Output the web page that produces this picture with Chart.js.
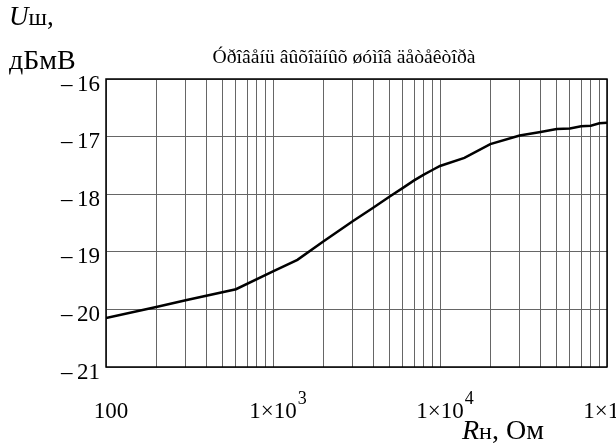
<!DOCTYPE html>
<html>
<head>
<meta charset="utf-8">
<script src="https://cdn.jsdelivr.net/npm/chart.js@4.4.1/dist/chart.umd.min.js"></script>
<style>
  html, body { margin: 0; padding: 0; background: #fff; }
  canvas { display: block; }
</style>
</head>
<body>
<canvas id="noiseChart" width="616" height="444"></canvas>
<script>
// load resistance, Ohm (log axis) and detector output noise, dBmV
const loadR = [100, 200, 300, 600, 1000, 1400, 2000, 3000, 4000, 5000, 6000, 7000, 8000, 9000,
               10000, 14000, 20000, 30000, 40000, 50000, 60000, 70000, 80000, 90000, 100000];
const noiseU = [-20.15, -19.96, -19.84, -19.65, -19.34, -19.14, -18.82, -18.47, -18.23, -18.04, -17.89, -17.76, -17.66, -17.58,
                -17.51, -17.37, -17.13, -16.98, -16.92, -16.87, -16.86, -16.82, -16.81, -16.77, -16.76];

const yTickValues = [-16, -17, -18, -19, -20, -21];
const xLabelValues = [100, 1000, 10000, 100000];
const xLabelBase = ['100', '1\u00d710', '1\u00d710', '1\u00d710'];
const xLabelExp = ['', '3', '4', '5'];
const decades = [100, 1000, 10000];
const gridMultipliers = [1, 2, 3, 4, 5, 6, 7, 8, 9];

const titleText = 'Óðîâåíü âûõîäíûõ øóìîâ äåòåêòîðà';
const serif = '"Liberation Serif", "Times New Roman", serif';
const gridColor = '#666';

const textLayer = {
    id: 'textLayer',
    afterDraw(chart) {
        const ctx = chart.ctx;
        const area = chart.chartArea;
        const xs = chart.scales.x;
        const ys = chart.scales.y;
        ctx.save();

        // frame
        ctx.strokeStyle = '#000';
        ctx.lineWidth = 1.5;
        ctx.strokeRect(area.left, area.top, area.right - area.left, area.bottom - area.top);

        ctx.fillStyle = '#000';
        ctx.textBaseline = 'alphabetic';

        // y tick labels
        ctx.font = '23px ' + serif;
        ctx.textAlign = 'right';
        yTickValues.forEach(v => {
            ctx.fillText('\u2013\u2009' + Math.abs(v), area.left - 6, ys.getPixelForValue(v) + 11.5);
        });

        // x tick labels with raised exponent
        ctx.textAlign = 'left';
        xLabelValues.forEach((v, i) => {
            ctx.font = '23px ' + serif;
            const wb = ctx.measureText(xLabelBase[i]).width;
            ctx.font = '18px ' + serif;
            const we = xLabelExp[i] ? ctx.measureText(xLabelExp[i]).width + 1 : 0;
            const x0 = xs.getPixelForValue(v) + 5 - (wb + we) / 2;
            ctx.font = '23px ' + serif;
            ctx.fillText(xLabelBase[i], x0, 418);
            if (xLabelExp[i]) {
                ctx.font = '18px ' + serif;
                ctx.fillText(xLabelExp[i], x0 + wb + 1, 404);
            }
        });

        // title
        ctx.font = '19.7px ' + serif;
        ctx.textAlign = 'center';
        ctx.fillText(titleText, 344, 63);

        // y axis title
        ctx.textAlign = 'left';
        let x = 9;
        ctx.font = 'italic 27px ' + serif;
        ctx.fillText('U', x, 25);
        x += ctx.measureText('U').width;
        ctx.font = '24px ' + serif;
        ctx.fillText('\u0448', x, 25);
        x += ctx.measureText('\u0448').width;
        ctx.font = '27px ' + serif;
        ctx.fillText(',', x, 25);
        ctx.font = '28px ' + serif;
        ctx.fillText('дБмВ', 9, 69);

        // x axis title
        x = 462;
        ctx.font = 'italic 28px ' + serif;
        ctx.fillText('R', x, 439);
        x += ctx.measureText('R').width;
        ctx.font = '24px ' + serif;
        ctx.fillText('\u043d', x, 439);
        x += ctx.measureText('\u043d').width;
        ctx.font = '28px ' + serif;
        ctx.fillText(', Ом', x, 439);

        ctx.restore();
    }
};

new Chart(document.getElementById('noiseChart'), {
    type: 'line',
    data: {
        datasets: [{
            data: loadR.map((r, i) => ({ x: r, y: noiseU[i] })),
            borderColor: '#000',
            borderWidth: 2.5,
            pointRadius: 0,
            fill: false,
            tension: 0
        }]
    },
    options: {
        responsive: false,
        animation: false,
        events: [],
        layout: { padding: { left: 106, top: 79, right: 9, bottom: 77 } },
        plugins: { legend: { display: false }, title: { display: false }, tooltip: { enabled: false } },
        scales: {
            x: {
                type: 'logarithmic',
                min: 100,
                max: 100000,
                afterBuildTicks: scale => {
                    const ticks = [];
                    decades.forEach(d => gridMultipliers.forEach(m => ticks.push({ value: d * m })));
                    ticks.push({ value: 100000 });
                    scale.ticks = ticks;
                },
                afterFit: scale => { scale.height = 0; scale.paddingLeft = 0; scale.paddingRight = 0; },
                ticks: { display: false },
                grid: { color: gridColor, lineWidth: 1, drawTicks: false },
                border: { display: false }
            },
            y: {
                min: -21,
                max: -16,
                afterBuildTicks: scale => { scale.ticks = yTickValues.map(v => ({ value: v })); },
                afterFit: scale => { scale.width = 0; scale.paddingTop = 0; scale.paddingBottom = 0; },
                ticks: { display: false },
                grid: { color: gridColor, lineWidth: 1, drawTicks: false },
                border: { display: false }
            }
        }
    },
    plugins: [textLayer]
});
</script>
</body>
</html>
